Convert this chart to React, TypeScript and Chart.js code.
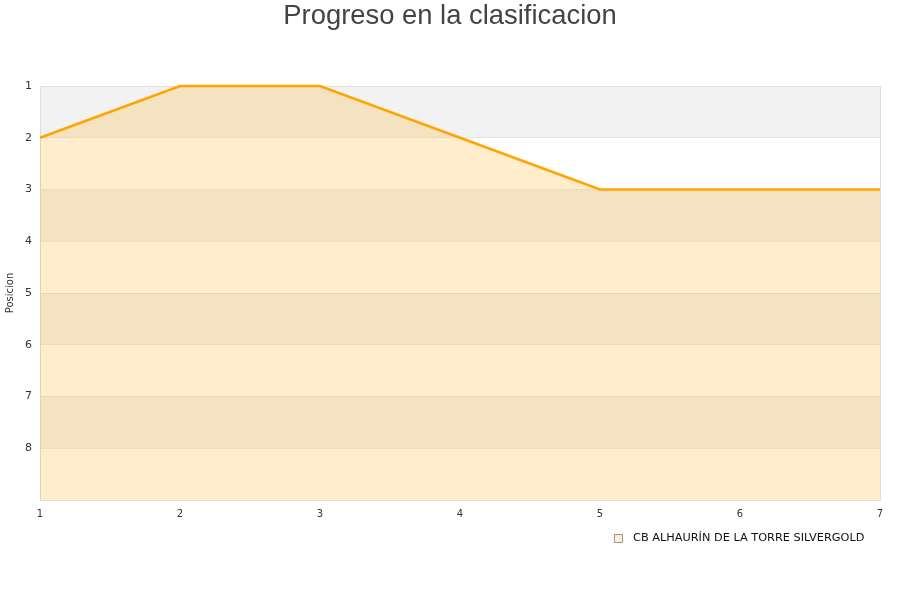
import React, { useEffect, useRef } from "react";
import { Chart, registerables } from "chart.js";

Chart.register(...registerables);

const jornadas = [1, 2, 3, 4, 5, 6, 7];
const posiciones = [2, 1, 1, 2, 3, 3, 3];
const teamName = "CB ALHAURÍN DE LA TORRE SILVERGOLD";
const titleText = "Progreso en la clasificacion";
const yTitle = "Posicion";

const bandPlugin = {
  id: "bands",
  beforeDraw(chart: any) {
    const { ctx, chartArea, scales } = chart;
    const y = scales.y;
    ctx.save();
    for (let v = 1; v < 9; v++) {
      const top = y.getPixelForValue(v);
      const bot = y.getPixelForValue(v + 1);
      ctx.fillStyle = v % 2 === 1 ? "#f2f2f2" : "#ffffff";
      ctx.fillRect(chartArea.left, top, chartArea.right - chartArea.left, bot - top);
    }
    ctx.restore();
  },
};

const decoPlugin = {
  id: "deco",
  afterDatasetsDraw(chart: any) {
    const { ctx, chartArea } = chart;
    ctx.save();
    ctx.strokeStyle = "#dddddd";
    ctx.lineWidth = 1;
    ctx.beginPath();
    ctx.moveTo(chartArea.right + 0.5, chartArea.top);
    ctx.lineTo(chartArea.right + 0.5, chartArea.bottom);
    ctx.stroke();
    ctx.restore();
  },
  afterDraw(chart: any) {
    const { ctx } = chart;
    ctx.save();
    ctx.fillStyle = "#444";
    ctx.font = "27.4px 'Liberation Sans', Arial, sans-serif";
    ctx.textAlign = "center";
    ctx.textBaseline = "middle";
    ctx.fillText(titleText, 450, 16.5);
    // legend
    const ds = chart.data.datasets[0];
    ctx.fillStyle = ds.backgroundColor;
    ctx.fillRect(614.5, 534.5, 8, 8);
    ctx.strokeStyle = "#999";
    ctx.lineWidth = 1;
    ctx.strokeRect(614.5, 534.5, 8, 8);
    ctx.fillStyle = "#111";
    ctx.font = "11.3px 'DejaVu Sans', sans-serif";
    ctx.textAlign = "left";
    ctx.fillText(ds.label, 633, 538.5);
    ctx.restore();
  },
};

export default function App() {
  const ref = useRef<HTMLCanvasElement>(null);
  useEffect(() => {
    if (!ref.current) return;
    const chart = new Chart(ref.current, {
      type: "line",
      data: {
        labels: jornadas.map(String),
        datasets: [
          {
            label: teamName,
            data: posiciones,
            borderColor: "#ffa500",
            backgroundColor: "rgba(255,165,0,0.2)",
            borderWidth: 2.6,
            pointRadius: 0,
            tension: 0,
            fill: { value: 9 },
            clip: false as any,
          },
        ],
      },
      options: {
        animation: false,
        responsive: false,
        layout: { padding: { top: 86, right: 20, bottom: 75, left: 0 } },
        plugins: {
          title: { display: false },
          legend: { display: false },
          tooltip: { enabled: false },
        },
        scales: {
          x: {
            type: "linear",
            min: 1,
            max: 7,
            ticks: {
              stepSize: 1,
              color: "#333",
              font: { family: "DejaVu Sans, sans-serif", size: 10 },
              padding: 8,
            },
            grid: { display: false, drawTicks: false },
            border: { color: "#dddddd" },
            afterFit: (s: any) => {
              s.height = 25;
            },
          },
          y: {
            reverse: true,
            min: 1,
            max: 9,
            ticks: {
              stepSize: 1,
              color: "#333",
              font: { family: "DejaVu Sans, sans-serif", size: 11 },
              padding: 8,
              callback: (v: any) => (v === 9 ? "" : String(v)),
            },
            title: {
              display: true,
              text: yTitle,
              color: "#333",
              font: { family: "DejaVu Sans, sans-serif", size: 10 },
              padding: { top: 4, bottom: 0 },
            },
            grid: { color: "rgba(0,0,0,0.07)", drawTicks: false },
            border: { color: "#dddddd" },
            afterFit: (s: any) => {
              s.width = 40;
            },
          },
        },
      } as any,
      plugins: [bandPlugin, decoPlugin],
    });
    return () => chart.destroy();
  }, []);
  return (
    <div style={{ position: "fixed", left: 0, top: 0, width: 900, height: 600, background: "#fff" }}>
      <canvas ref={ref} width={900} height={600} style={{ width: 900, height: 600 }} />
    </div>
  );
}
